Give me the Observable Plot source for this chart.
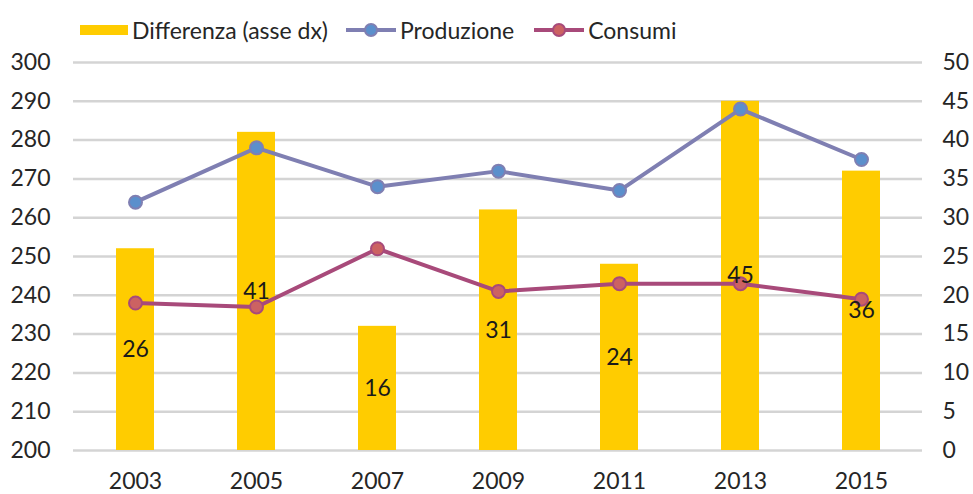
<!DOCTYPE html>
<html><head><meta charset="utf-8">
<script src="https://cdn.jsdelivr.net/npm/d3@7"></script>
<script src="https://cdn.jsdelivr.net/npm/@observablehq/plot@0.6"></script>
<style>
html,body{margin:0;padding:0;background:#fff;}
body{width:973px;height:494px;overflow:hidden;font-family:Lato,"Open Sans",sans-serif;color:#262626;}
#legend{box-sizing:border-box;height:44px;padding-top:16px;padding-left:80px;display:flex;align-items:center;font-size:23px;}
#legend .item{display:flex;align-items:center;}
#legend svg{display:block;}
#chart svg{display:block;}
</style></head>
<body>
<div id="legend"></div>
<div id="chart"></div>
<script>
const years = ["2003","2005","2007","2009","2011","2013","2015"];
const produzione = [264, 278, 268, 272, 267, 288, 275];
const consumi = [238, 237, 252, 241, 243, 243, 239];
const differenza = [26, 41, 16, 31, 24, 45, 36];
const leftTicks = [200,210,220,230,240,250,260,270,280,290,300];

const colBar = "#FFCC00";
const colProdLine = "#7f7fb2", colProdDot = "#5b8fcc";
const colConsLine = "#a84a7a", colConsDot = "#cc6262";

// right axis (0-50) mapped onto left scale (200-300): left = 200 + 2*right
const toLeft = v => 200 + 2 * v;

const rows = years.map((y, i) => ({year: y, prod: produzione[i], cons: consumi[i], diff: differenza[i]}));

// legend
const legend = document.getElementById("legend");
function addItem(swatchSvg, label, gapAfter) {
  const it = document.createElement("div");
  it.className = "item";
  it.style.marginRight = gapAfter + "px";
  it.innerHTML = swatchSvg + `<span style="margin-left:4px">${label}</span>`;
  legend.appendChild(it);
}
addItem(`<svg width="48" height="10"><rect width="48" height="10" fill="${colBar}"/></svg>`, "Differenza (asse dx)", 18);
addItem(`<svg width="50" height="16"><line x1="0" x2="50" y1="8" y2="8" stroke="${colProdLine}" stroke-width="4"/><circle cx="25" cy="8" r="6" fill="${colProdDot}" stroke="${colProdLine}" stroke-width="2"/></svg>`, "Produzione", 20);
addItem(`<svg width="50" height="16"><line x1="0" x2="50" y1="8" y2="8" stroke="${colConsLine}" stroke-width="4"/><circle cx="25" cy="8" r="6" fill="${colConsDot}" stroke="${colConsLine}" stroke-width="2"/></svg>`, "Consumi", 0);

const chart = Plot.plot({
  width: 973,
  height: 450,
  marginTop: 18,
  marginBottom: 44,
  marginLeft: 73,
  marginRight: 51,
  style: {fontFamily: "Lato, 'Open Sans', sans-serif", fontSize: "23px", color: "#262626", background: "#fff"},
  x: {domain: years, paddingInner: 0.686, paddingOuter: 0.343, label: null},
  y: {domain: [200, 300], label: null},
  marks: [
    Plot.ruleY(leftTicks, {stroke: "#d4d4d4", strokeWidth: 2.5}),
    Plot.barY(rows, {x: "year", y1: 200, y2: d => toLeft(d.diff), fill: colBar}),
    Plot.lineY(rows, {x: "year", y: "prod", stroke: colProdLine, strokeWidth: 4}),
    Plot.dot(rows, {x: "year", y: "prod", r: 6.5, fill: colProdDot, stroke: colProdLine, strokeWidth: 2}),
    Plot.lineY(rows, {x: "year", y: "cons", stroke: colConsLine, strokeWidth: 4}),
    Plot.dot(rows, {x: "year", y: "cons", r: 6.5, fill: colConsDot, stroke: colConsLine, strokeWidth: 2}),
    Plot.text(rows, {x: "year", y: d => toLeft(d.diff / 2), text: d => String(d.diff), fontSize: 23, fill: "#1a1a1a"}),
    Plot.axisY(leftTicks, {anchor: "left", tickSize: 0, tickPadding: 23, label: null, fontSize: 23}),
    Plot.axisY(leftTicks, {anchor: "right", tickSize: 0, tickPadding: 20, label: null, fontSize: 23, tickFormat: d => String((d - 200) / 2)}),
    Plot.axisX({tickSize: 0, tickPadding: 22, label: null, fontSize: 23})
  ]
});
document.getElementById("chart").appendChild(chart);
</script>
</body></html>
